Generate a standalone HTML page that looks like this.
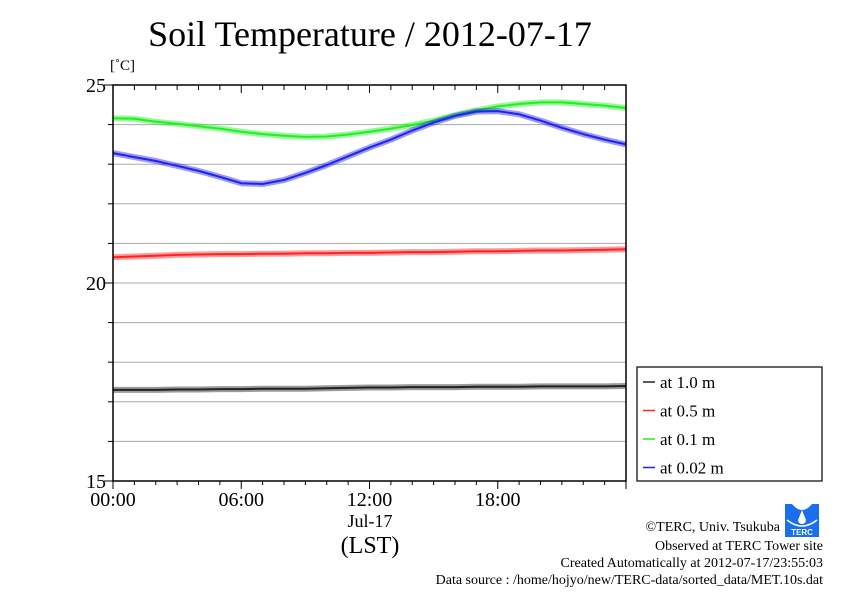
<!DOCTYPE html>
<html><head><meta charset="utf-8"><style>
body{margin:0;background:#fff;}
svg{display:block;font-family:"Liberation Serif",serif;}
</style></head><body>
<svg width="842" height="595" viewBox="0 0 842 595">
<rect width="842" height="595" fill="#fff"/>
<text x="370" y="46" font-size="36" text-anchor="middle">Soil Temperature / 2012-07-17</text>
<text x="110" y="70" font-size="15">[˚C]</text>
<g id="grid"></g>
<g id="series"></g>
<rect x="113" y="85" width="513" height="396" fill="none" stroke="#000" stroke-width="1.5"/>
<g id="axes"></g>
<text x="370" y="527" font-size="18" text-anchor="middle">Jul-17</text>
<text x="370" y="553" font-size="24" text-anchor="middle">(LST)</text>
<g>
<rect x="637" y="367" width="185" height="114" fill="#fff" stroke="#000" stroke-width="1.2"/>
<g id="legend"></g>
</g>
<g>
<rect x="785" y="504" width="34" height="33" fill="#1a6ef0"/>
<path d="M792 504 Q802 516 812 504 Z" fill="#fff"/>
<path d="M802 510 L798 520 A4 4 0 0 0 806 520 Z" fill="#fff"/>
<path d="M787 520 Q802 532 817 520" stroke="#fff" fill="none" stroke-width="1.5"/>
<text x="802" y="535" font-size="8" fill="#fff" text-anchor="middle" font-family="Liberation Sans,sans-serif" font-weight="bold">TERC</text>
</g>
<g font-size="14" text-anchor="end">
<text x="780" y="531">©TERC, Univ. Tsukuba</text>
<text x="823" y="550">Observed at TERC Tower site</text>
<text x="823" y="567">Created Automatically at 2012-07-17/23:55:03</text>
<text x="823" y="584">Data source : /home/hojyo/new/TERC-data/sorted_data/MET.10s.dat</text>
</g>
</svg>
<script>
const hours=[0,1,2,3,4,5,6,7,8,9,10,11,12,13,14,15,16,17,18,19,20,21,22,23,24];
const t10=[17.3,17.3,17.3,17.31,17.31,17.32,17.32,17.33,17.33,17.33,17.34,17.35,17.36,17.36,17.37,17.37,17.37,17.38,17.38,17.38,17.39,17.39,17.39,17.39,17.4];
const t05=[20.65,20.67,20.69,20.71,20.72,20.73,20.73,20.74,20.74,20.75,20.75,20.76,20.76,20.77,20.78,20.78,20.79,20.8,20.8,20.81,20.82,20.82,20.83,20.84,20.85];
const t01=[24.16,24.15,24.07,24.02,23.96,23.9,23.82,23.76,23.72,23.69,23.7,23.75,23.82,23.9,23.99,24.1,24.24,24.36,24.46,24.52,24.56,24.56,24.52,24.48,24.42];
const t002=[23.28,23.18,23.08,22.96,22.83,22.68,22.52,22.5,22.6,22.78,22.98,23.2,23.42,23.62,23.85,24.05,24.22,24.33,24.34,24.26,24.1,23.92,23.76,23.62,23.5];
const yTicks=[15,20,25];
const xTickLabels=["00:00","06:00","12:00","18:00"];
const xTickHours=[0,6,12,18];
const seriesNames=["at 1.0 m","at 0.5 m","at 0.1 m","at 0.02 m"];
const seriesColors=["#222","#f22","#2e2","#22e"];
const seriesData=[t10,t05,t01,t002];

const X0=113,X1=626,Y0=481,Y1=85,YMIN=15,YMAX=25;
const xs=h=>X0+(X1-X0)*h/24;
const ys=v=>Y0-(Y0-Y1)*(v-YMIN)/(YMAX-YMIN);
const NS="http://www.w3.org/2000/svg";
function mk(tag,attrs,parent){const e=document.createElementNS(NS,tag);for(const k in attrs)e.setAttribute(k,attrs[k]);parent.appendChild(e);return e;}
const grid=document.getElementById('grid'),axes=document.getElementById('axes'),ser=document.getElementById('series'),leg=document.getElementById('legend');
for(let v=YMIN+1;v<YMAX;v++){const l=mk('line',{x1:X0,x2:X1,y1:ys(v),y2:ys(v),stroke:'#aaa','stroke-width':1},grid);


mk('line',{x1:X0-5,x2:X0,y1:ys(v),y2:ys(v),stroke:'#000'},axes);}
yTicks.forEach(v=>{mk('line',{x1:X0-9,x2:X0,y1:ys(v),y2:ys(v),stroke:'#000'},axes);
const t=mk('text',{x:X0-7,y:ys(v)+7,'font-size':20,'text-anchor':'end'},axes);t.textContent=v;

});
for(let h=0;h<=24;h++){const big=h%6==0;mk('line',{x1:xs(h),x2:xs(h),y1:Y1,y2:Y1+(big?8:5),stroke:'#000'},axes);
mk('line',{x1:xs(h),x2:xs(h),y1:Y0,y2:Y0+(big?8:4),stroke:'#000'},axes);}
xTickHours.forEach((h,i)=>{const t=mk('text',{x:xs(h),y:506,'font-size':20,'text-anchor':'middle'},axes);t.textContent=xTickLabels[i];

});
seriesData.forEach((d,i)=>{const pts=d.map((v,j)=>xs(hours[j]).toFixed(1)+','+ys(v).toFixed(1)).join(' ');
mk('polyline',{points:pts,fill:'none',stroke:seriesColors[i],'stroke-width':6,'stroke-opacity':0.45,'stroke-linejoin':'round'},ser);
const p=mk('polyline',{points:pts,fill:'none',stroke:seriesColors[i],'stroke-width':2,'stroke-linejoin':'round'},ser);


const y=382+i*28.5;
mk('line',{x1:643,x2:655,y1:y,y2:y,stroke:seriesColors[i],'stroke-width':1.5},leg);
const t=mk('text',{x:660,y:y+6,'font-size':17},leg);t.textContent=seriesNames[i];

});
</script>
</body></html>
